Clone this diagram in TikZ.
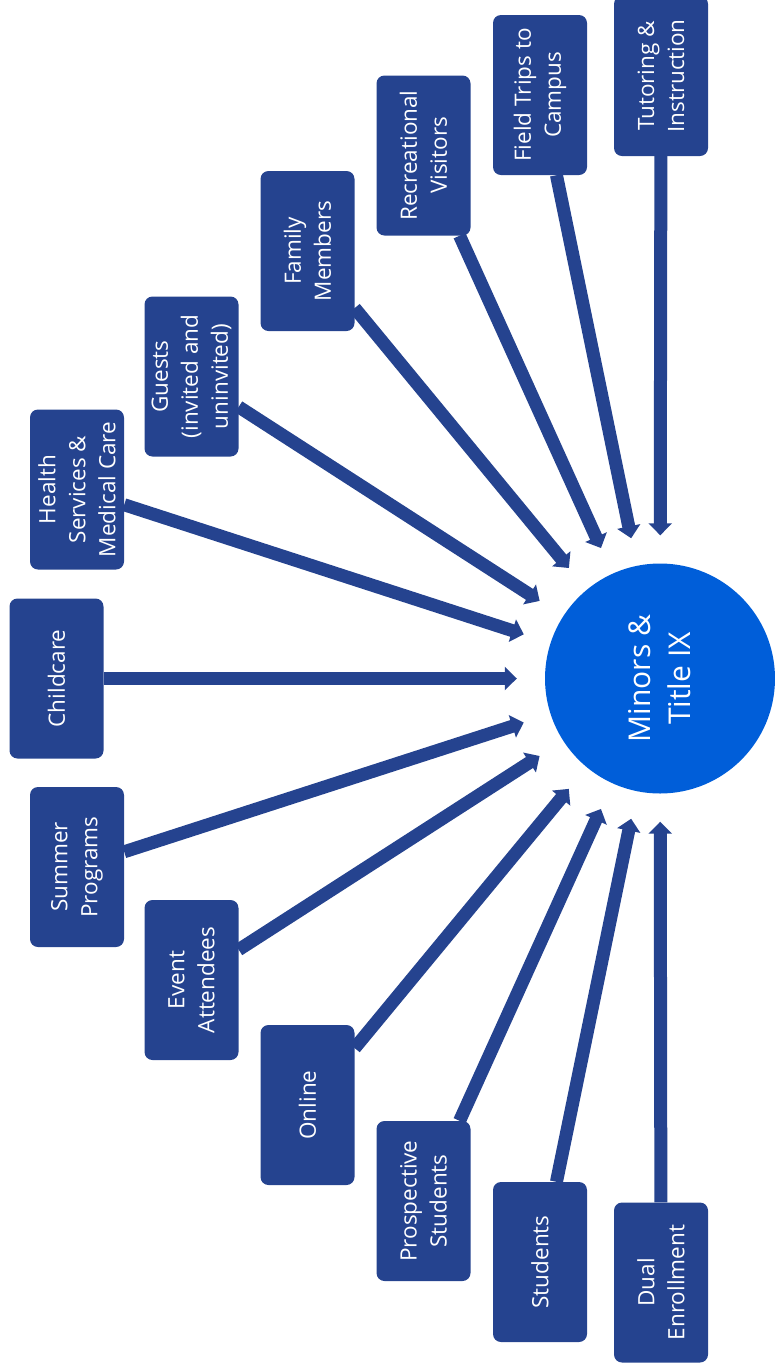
\documentclass[tikz,border=0pt]{standalone}
\usepackage{fontspec}
\setmainfont{Open Sans}
\usepackage{xcolor}
\usepackage{tikz}
\usetikzlibrary{arrows.meta}

\definecolor{groupblue}{HTML}{25438F}
\definecolor{hubblue}{HTML}{005ED9}

\begin{document}
\begin{tikzpicture}
		[
			x=1pt,y=-1pt,
			every node/.style={
					text=white,align=center},
			group/.style={rectangle,rounded corners=8pt,fill=groupblue,rotate=90,
					minimum width=160pt,minimum height=94pt,inner sep=2pt,
					font=\fontsize{22.5}{30}\selectfont},
			hub/.style={circle,fill=hubblue,minimum size=230pt,rotate=90,
					font=\fontsize{30}{40}\selectfont},
			feed/.style={draw=groupblue,line width=13pt,
					-{Triangle[length=12pt,width=23pt]},shorten >=28pt}]
		\useasboundingbox (0,0) rectangle (775,1369);
		\node[hub] (Hub) at (660,678.5) {Minors \&\\Title IX};
		% upper half
		\node[group] (Tutoring) at (661,76) {Tutoring \&\\Instruction};
		\node[group] (FieldTrips) at (540,95) {Field Trips to\\Campus};
		\node[group] (Recreational) at (423.5,155.5) {Recreational\\Visitors};
		\node[group] (Family) at (307.5,251) {Family\\Members};
		\node[group] (Guests) at (191.5,376.5) {Guests\\(invited and\\uninvited)};
		\node[group] (Health) at (77,489.5) {Health\\Services \&\\Medical Care};
		\node[group] (Childcare) at (56.5,678.5) {Childcare};
		% lower half
		\node[group] (Summer) at (77,867) {Summer\\Programs};
		\node[group] (Event) at (191.5,980) {Event\\Attendees};
		\node[group] (Online) at (307.5,1105) {Online};
		\node[group] (Prospective) at (423.5,1201) {Prospective\\Students};
		\node[group] (Students) at (540,1262) {Students};
		\node[group] (Dual) at (661,1282.5) {Dual\\Enrollment};
		\foreach \from in {Tutoring,FieldTrips,Recreational,Family,Guests,Health,Childcare,
				Summer,Event,Online,Prospective,Students,Dual}
			{
				\draw[feed] (\from) -- (Hub);
			}
	\end{tikzpicture}
\end{document}
